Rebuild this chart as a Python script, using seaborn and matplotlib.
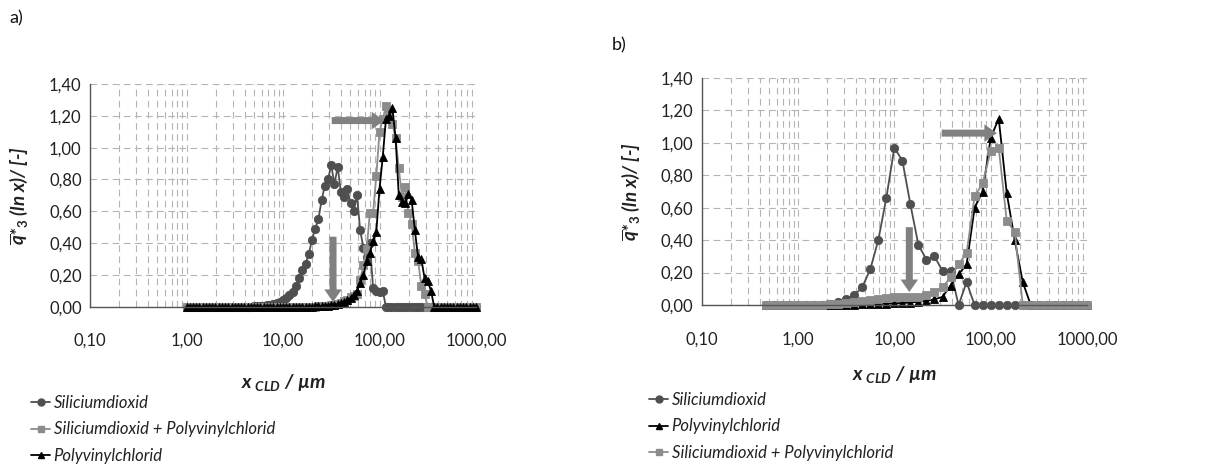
import numpy as np
import pandas as pd
import matplotlib
matplotlib.use("Agg")
import matplotlib.pyplot as plt
import seaborn as sns
from matplotlib.ticker import FixedLocator, FuncFormatter, LogLocator, NullFormatter
from matplotlib.lines import Line2D

# ---------------- data ----------------
# panel a) : common size classes (µm)
x_a = [1.000, 1.080, 1.166, 1.259, 1.359, 1.468, 1.585, 1.711, 1.848, 1.995,
       2.154, 2.326, 2.512, 2.712, 2.929, 3.162, 3.415, 3.687, 3.981, 4.299,
       4.642, 5.012, 5.412, 5.843, 6.310, 6.813, 7.356, 7.943, 8.577, 9.261,
       10.00, 10.80, 11.66, 12.59, 13.59, 14.68, 15.85, 17.11, 18.48, 19.95,
       21.54, 23.26, 25.12, 27.12, 29.29, 31.62, 34.15, 36.87, 39.81, 42.99,
       46.42, 50.12, 54.12, 58.43, 63.10, 68.13, 73.56, 79.43, 85.77, 92.61,
       100.0, 108.0, 116.6, 125.9, 135.9, 146.8, 158.5, 171.1, 184.8, 199.5,
       215.4, 232.6, 251.2, 271.2, 292.9, 316.2, 341.5, 368.7, 398.1, 429.9,
       464.2, 501.2, 541.2, 584.3, 631.0, 681.3, 735.6, 794.3, 857.7, 926.1,
       1000.0]

sio2_a = [0, 0, 0, 0, 0, 0, 0, 0, 0, 0,
          0, 0, 0, 0, 0, 0, 0, 0, 0, 0,
          0.001, 0.002, 0.003, 0.004, 0.006, 0.008, 0.012, 0.016, 0.022, 0.03,
          0.04, 0.055, 0.075, 0.09, 0.13, 0.18, 0.23, 0.27, 0.33, 0.42,
          0.49, 0.55, 0.67, 0.76, 0.80, 0.89, 0.77, 0.88, 0.72, 0.69,
          0.74, 0.65, 0.60, 0.70, 0.48, 0.37, 0.31, 0.40, 0.12, 0.10,
          0.09, 0.10, 0, 0, 0, 0, 0, 0, 0, 0,
          0, 0, 0, 0, 0, 0, 0, 0, 0, 0,
          0, 0, 0, 0, 0, 0, 0, 0, 0, 0,
          0]

mix_a = [0, 0, 0, 0, 0, 0, 0, 0, 0, 0,
         0, 0, 0, 0, 0, 0, 0, 0, 0, 0,
         0, 0, 0, 0, 0, 0, 0, 0, 0, 0,
         0, 0, 0, 0, 0, 0, 0, 0, 0, 0,
         0, 0.002, 0.003, 0.005, 0.007, 0.010, 0.013, 0.018, 0.025, 0.033,
         0.045, 0.06, 0.07, 0.08, 0.17, 0.26, 0.36, 0.59, 0.59, 0.82,
         1.10, 1.18, 1.26, 1.21, 1.15, 1.06, 0.87, 0.69, 0.75, 0.59,
         0.52, 0.34, 0.29, 0.13, 0.08, 0, 0, 0, 0, 0,
         0, 0, 0, 0, 0, 0, 0, 0, 0, 0,
         0]

pvc_a = [0, 0, 0, 0, 0, 0, 0, 0, 0, 0,
         0, 0, 0, 0, 0, 0, 0, 0, 0, 0,
         0, 0, 0, 0, 0, 0, 0, 0, 0, 0,
         0, 0, 0, 0, 0, 0, 0, 0, 0, 0.001,
         0.002, 0.003, 0.004, 0.005, 0.007, 0.009, 0.012, 0.016, 0.022, 0.03,
         0.04, 0.055, 0.075, 0.10, 0.15, 0.20, 0.29, 0.34, 0.41, 0.47,
         0.74, 0.94, 1.18, 1.20, 1.25, 1.06, 0.70, 0.66, 0.65, 0.71,
         0.67, 0.48, 0.31, 0.30, 0.18, 0.16, 0.10, 0, 0, 0,
         0, 0, 0, 0, 0, 0, 0, 0, 0, 0,
         0]

# panel b) : common size classes (µm)
x_b = [0.464, 0.562, 0.681, 0.825, 1.000, 1.212, 1.468, 1.778, 2.154, 2.610,
       3.162, 3.831, 4.642, 5.623, 6.813, 8.254, 10.00, 12.12, 14.68, 17.78,
       21.54, 26.10, 31.62, 38.31, 46.42, 56.23, 68.13, 82.54, 100.0, 121.2,
       146.8, 177.8, 215.4, 261.0, 316.2, 383.1, 464.2, 562.3, 681.3, 825.4,
       1000.0]

sio2_b = [0, 0, 0, 0, 0, 0, 0, 0, 0.005, 0.02,
          0.04, 0.06, 0.11, 0.22, 0.40, 0.66, 0.97, 0.89, 0.62, 0.37,
          0.28, 0.30, 0.21, 0.21, 0.00, 0.14, 0, 0, 0, 0,
          0, 0, 0, 0, 0, 0, 0, 0, 0, 0,
          0]

pvc_b = [0, 0, 0, 0, 0, 0, 0, 0, 0, 0.001,
         0.002, 0.003, 0.004, 0.005, 0.006, 0.008, 0.010, 0.012, 0.015, 0.02,
         0.025, 0.035, 0.05, 0.12, 0.19, 0.25, 0.60, 0.70, 1.03, 1.15,
         0.69, 0.40, 0.14, 0, 0, 0, 0, 0, 0, 0,
         0]

mix_b = [0, 0, 0, 0, 0, 0, 0, 0.003, 0.005, 0.008,
         0.012, 0.018, 0.025, 0.03, 0.04, 0.045, 0.05, 0.05, 0.05, 0.05,
         0.06, 0.08, 0.11, 0.17, 0.25, 0.32, 0.67, 0.75, 0.95, 0.97,
         0.52, 0.45, 0, 0, 0, 0, 0, 0, 0, 0,
         0]

x_ticks = [0.1, 1, 10, 100, 1000]
x_ticklabels = ["0,10", "1,00", "10,00", "100,00", "1000,00"]
y_ticks = [0.0, 0.2, 0.4, 0.6, 0.8, 1.0, 1.2, 1.4]

lbl_sio2 = "Siliciumdioxid"
lbl_mix = "Siliciumdioxid + Polyvinylchlorid"
lbl_pvc = "Polyvinylchlorid"

# arrows: (x_start, y_start, x_end, y_end)
arrows_a = [(33, 0.44, 33, 0.03), (32, 1.17, 112, 1.17)]
arrows_b = [(14.3, 0.48, 14.3, 0.08), (31, 1.06, 116, 1.06)]

# ---------------- style ----------------
sns.set_theme(style="white")
plt.rcParams["font.family"] = ["Lato", "DejaVu Sans"]
plt.rcParams["mathtext.fontset"] = "custom"
plt.rcParams["mathtext.it"] = "Lato:italic:bold"
plt.rcParams["mathtext.rm"] = "Lato:bold"
plt.rcParams["mathtext.bf"] = "Lato:bold"

C_SIO2 = "#4f4f4f"
C_MIX = "#8c8c8c"
C_PVC = "#000000"
C_ARROW = "#808080"
C_GRID = "#b4b4b4"
C_AXIS = "#555555"

W, H = 1208, 470
fig = plt.figure(figsize=(W / 100, H / 100), dpi=100)
axA = fig.add_axes([90 / W, 1 - 306.7 / H, 386 / W, 222.7 / H])
axB = fig.add_axes([701.7 / W, 1 - 305 / H, 385.3 / W, 227 / H])


def draw(ax, x, y, color, marker, ms):
    sns.lineplot(x=x, y=y, ax=ax, color=color, marker=marker, markersize=ms,
                 markeredgecolor=color, markeredgewidth=0.6, linewidth=1.3,
                 legend=False, sort=False, estimator=None)
    ax.lines[-1].set_clip_on(False)


def style_axes(ax, xlab_y, ylab_x):
    ax.set_xscale("log")
    ax.set_xlim(0.1, 1000)
    ax.set_ylim(0, 1.4)
    ax.xaxis.set_major_locator(FixedLocator(x_ticks))
    ax.xaxis.set_major_formatter(FuncFormatter(lambda v, p: x_ticklabels[x_ticks.index(v)] if v in x_ticks else ""))
    ax.xaxis.set_minor_locator(LogLocator(base=10, subs=[2, 3, 4, 5, 6, 7, 8, 9], numticks=20))
    ax.xaxis.set_minor_formatter(NullFormatter())
    ax.yaxis.set_major_locator(FixedLocator(y_ticks))
    ax.yaxis.set_major_formatter(FuncFormatter(lambda v, p: f"{v:.2f}".replace(".", ",")))
    ax.set_axisbelow(True)
    ax.grid(which="major", axis="both", color=C_GRID, linewidth=0.8, linestyle=(0, (6, 4)))
    ax.grid(which="minor", axis="x", color=C_GRID, linewidth=0.8, linestyle=(0, (6, 4)))
    for s in ["top", "right"]:
        ax.spines[s].set_visible(False)
    for s in ["left", "bottom"]:
        ax.spines[s].set_color(C_AXIS)
        ax.spines[s].set_linewidth(1.0)
    ax.tick_params(axis="x", which="major", length=0, pad=19, labelsize=12, colors="#222222")
    ax.tick_params(axis="x", which="minor", length=0)
    ax.tick_params(axis="y", which="major", length=4, width=1, direction="out",
                   color=C_AXIS, pad=2, labelsize=12, labelcolor="#222222")
    ax.set_xlabel(r"$x_{\ CLD}$ / µm", fontsize=14, fontweight="bold", fontstyle="italic", color="#222222")
    ax.xaxis.set_label_coords(0.5, xlab_y)
    ax.set_ylabel(r"$\overline{q}$*$_{3}$ (ln x)/ [-]", fontsize=13.5, fontweight="bold",
                  fontstyle="italic", color="#222222")
    ax.yaxis.set_label_coords(ylab_x, 0.5)


def add_arrows(ax, arrows):
    for (x0, y0, x1, y1) in arrows:
        ax.annotate("", xy=(x1, y1), xytext=(x0, y0),
                    arrowprops=dict(arrowstyle="simple,head_length=0.75,head_width=1.05,tail_width=0.42",
                                    color=C_ARROW, shrinkA=0, shrinkB=0, mutation_scale=12,
                                    linewidth=0),
                    zorder=5)


# panel a
draw(axA, x_a, sio2_a, C_SIO2, "o", 6)
draw(axA, x_a, mix_a, C_MIX, "s", 5.5)
draw(axA, x_a, pvc_a, C_PVC, "^", 6)
style_axes(axA, -0.295, -0.155)
add_arrows(axA, arrows_a)

# panel b
draw(axB, x_b, sio2_b, C_SIO2, "o", 6)
draw(axB, x_b, pvc_b, C_PVC, "^", 6)
draw(axB, x_b, mix_b, C_MIX, "s", 5.5)
style_axes(axB, -0.26, -0.155)
add_arrows(axB, arrows_b)


def handle(color, marker, ms):
    return Line2D([], [], color=color, marker=marker, markersize=ms, markeredgecolor=color,
                  linewidth=1.3)


legend_kw = dict(frameon=False, handlelength=1.15, handletextpad=0.2, borderpad=0,
                 labelspacing=0.62, borderaxespad=0, prop=dict(size=12, style="italic"),
                 labelcolor="#222222", loc="upper left", bbox_transform=fig.transFigure)

fig.legend([handle(C_SIO2, "o", 5), handle(C_MIX, "s", 4.5), handle(C_PVC, "^", 5)],
           [lbl_sio2, lbl_mix, lbl_pvc], bbox_to_anchor=(31 / W, 1 - 395 / H), **legend_kw)
fig.legend([handle(C_SIO2, "o", 5), handle(C_PVC, "^", 5), handle(C_MIX, "s", 4.5)],
           [lbl_sio2, lbl_pvc, lbl_mix], bbox_to_anchor=(649 / W, 1 - 392 / H), **legend_kw)

fig.text(9 / W, 1 - 18 / H, "a)", fontsize=13, va="center", ha="left", color="#111111")
fig.text(612 / W, 1 - 45 / H, "b)", fontsize=13, va="center", ha="left", color="#111111")

fig.savefig("out.png", dpi=100)
